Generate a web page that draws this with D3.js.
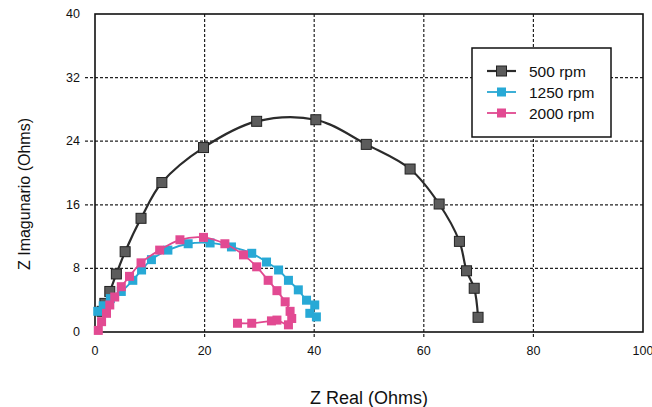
<!DOCTYPE html>
<html>
<head>
<meta charset="utf-8">
<script src="https://cdn.jsdelivr.net/npm/d3@7"></script>
<style>
  body { margin: 0; background: #fff; }
  svg text { font-family: Arial, "Liberation Sans", sans-serif; fill: #111; }
</style>
</head>
<body>
<svg id="nyquist-chart" width="652" height="407"></svg>
<script>
// Nyquist plot data (Z real, Z imaginary in ohms)
const real500 = [1.3, 1.8, 2.7, 3.9, 5.5, 8.4, 12.2, 19.8, 29.5, 40.3, 49.5, 57.5, 62.8, 66.5, 67.8, 69.2, 69.9];
const imag500 = [2.6, 3.6, 5.1, 7.3, 10.1, 14.3, 18.8, 23.2, 26.5, 26.7, 23.6, 20.5, 16.1, 11.4, 7.7, 5.5, 1.85];

const real1250 = [0.5, 1.5, 2.8, 4.8, 6.9, 8.5, 10.3, 13.3, 17.0, 21.0, 24.9, 28.6, 31.3, 33.5, 35.3, 37.1, 38.6, 40.1, 39.2, 40.4];
const imag1250 = [2.6, 3.3, 4.2, 5.1, 6.5, 7.8, 9.1, 10.3, 11.1, 11.2, 10.7, 9.9, 8.8, 7.8, 6.5, 5.3, 4.0, 3.4, 2.35, 1.9];

const real2000 = [0.6, 1.2, 2.1, 2.7, 3.6, 4.8, 6.3, 8.4, 11.8, 15.5, 19.8, 23.7, 27.1, 29.5, 31.6, 33.2, 34.7, 35.6, 35.9, 35.3, 33.2, 32.2, 28.6, 26.0];
const imag2000 = [0.2, 1.3, 2.35, 3.4, 4.4, 5.7, 7.0, 8.7, 10.3, 11.6, 11.9, 11.1, 9.7, 8.2, 6.5, 5.2, 3.8, 2.6, 1.7, 0.9, 1.5, 1.4, 1.1, 1.1];

const seriesNames = ["500 rpm", "1250 rpm", "2000 rpm"];
const xTicks = [0, 20, 40, 60, 80, 100];
const yTicks = [0, 8, 16, 24, 32, 40];

const svg = d3.select("svg#nyquist-chart");
const plotLeft = 95;
const plotRight = 643;
const plotTop = 14;
const plotBottom = 332;

const xScale = d3.scaleLinear().domain([0, 100]).range([plotLeft, plotRight]);
const yScale = d3.scaleLinear().domain([0, 40]).range([plotBottom, plotTop]);

const series = [
  { name: seriesNames[0], xs: real500, ys: imag500, line: "#2b2b2b", fill: "#5c5c5c", stroke: "#222", width: 2.2, size: 10 },
  { name: seriesNames[1], xs: real1250, ys: imag1250, line: "#27a6d2", fill: "#27a9d6", stroke: "none", width: 1.8, size: 9 },
  { name: seriesNames[2], xs: real2000, ys: imag2000, line: "#e0488f", fill: "#e24a92", stroke: "none", width: 1.8, size: 9 },
];

// gridlines (dashed), extended a bit past the frame like tick marks
const grid = svg.append("g").attr("class", "grid");
grid
  .selectAll("line.hgrid")
  .data(yTicks.filter((d) => d > 0 && d < 40))
  .join("line")
  .attr("class", "hgrid")
  .attr("x1", plotLeft - 10)
  .attr("x2", plotRight)
  .attr("y1", (d) => yScale(d))
  .attr("y2", (d) => yScale(d))
  .attr("stroke", "#222")
  .attr("stroke-width", 1.2)
  .attr("stroke-dasharray", "3,2");
grid
  .selectAll("line.vgrid")
  .data(xTicks.filter((d) => d > 0 && d < 100))
  .join("line")
  .attr("class", "vgrid")
  .attr("x1", (d) => xScale(d))
  .attr("x2", (d) => xScale(d))
  .attr("y1", plotTop)
  .attr("y2", plotBottom + 6)
  .attr("stroke", "#222")
  .attr("stroke-width", 1.2)
  .attr("stroke-dasharray", "3,2");

// frame
svg
  .append("rect")
  .attr("x", plotLeft)
  .attr("y", plotTop)
  .attr("width", plotRight - plotLeft)
  .attr("height", plotBottom - plotTop)
  .attr("fill", "none")
  .attr("stroke", "#111")
  .attr("stroke-width", 1.6);

// tick labels
svg
  .selectAll("text.ylabel")
  .data(yTicks)
  .join("text")
  .attr("class", "ylabel")
  .attr("x", 80)
  .attr("y", (d) => yScale(d))
  .attr("text-anchor", "end")
  .attr("dominant-baseline", "central")
  .attr("font-size", 12.5)
  .text((d) => d);
svg
  .selectAll("text.xlabel")
  .data(xTicks)
  .join("text")
  .attr("class", "xlabel")
  .attr("x", (d) => xScale(d))
  .attr("y", 351)
  .attr("text-anchor", "middle")
  .attr("dominant-baseline", "central")
  .attr("font-size", 12.5)
  .text((d) => d);

// axis titles
svg
  .append("text")
  .attr("x", (plotLeft + plotRight) / 2)
  .attr("y", 404)
  .attr("text-anchor", "middle")
  .attr("font-size", 18)
  .text("Z Real (Ohms)");
svg
  .append("text")
  .attr("transform", `translate(30, ${194}) rotate(-90)`)
  .attr("text-anchor", "middle")
  .attr("font-size", 16)
  .text("Z Imagunario (Ohms)");

// curves and markers
const curve = d3
  .line()
  .x((d) => xScale(d[0]))
  .y((d) => yScale(d[1]))
  .curve(d3.curveCatmullRom.alpha(0.5));

series.forEach((s) => {
  const pts = s.xs.map((x, i) => [x, s.ys[i]]);
  const g = svg.append("g").attr("class", "series");
  g.append("path")
    .attr("d", curve(pts))
    .attr("fill", "none")
    .attr("stroke", s.line)
    .attr("stroke-width", s.width);
  g.selectAll("rect")
    .data(pts)
    .join("rect")
    .attr("x", (d) => xScale(d[0]) - s.size / 2)
    .attr("y", (d) => yScale(d[1]) - s.size / 2)
    .attr("width", s.size)
    .attr("height", s.size)
    .attr("fill", s.fill)
    .attr("stroke", s.stroke)
    .attr("stroke-width", 1);
});

// legend
const legend = svg.append("g").attr("class", "legend");
legend
  .append("rect")
  .attr("x", 472)
  .attr("y", 48)
  .attr("width", 139)
  .attr("height", 89)
  .attr("fill", "#fff")
  .attr("stroke", "#111")
  .attr("stroke-width", 1.5);
series.forEach((s, i) => {
  const cy = 71 + i * 21;
  legend
    .append("line")
    .attr("x1", 487)
    .attr("x2", 516)
    .attr("y1", cy)
    .attr("y2", cy)
    .attr("stroke", s.line)
    .attr("stroke-width", s.width);
  legend
    .append("rect")
    .attr("x", 501.5 - s.size / 2)
    .attr("y", cy - s.size / 2)
    .attr("width", s.size)
    .attr("height", s.size)
    .attr("fill", s.fill)
    .attr("stroke", s.stroke);
  legend
    .append("text")
    .attr("x", 529)
    .attr("y", cy)
    .attr("dominant-baseline", "central")
    .attr("font-size", 15.5)
    .text(s.name);
});
</script>
</body>
</html>
